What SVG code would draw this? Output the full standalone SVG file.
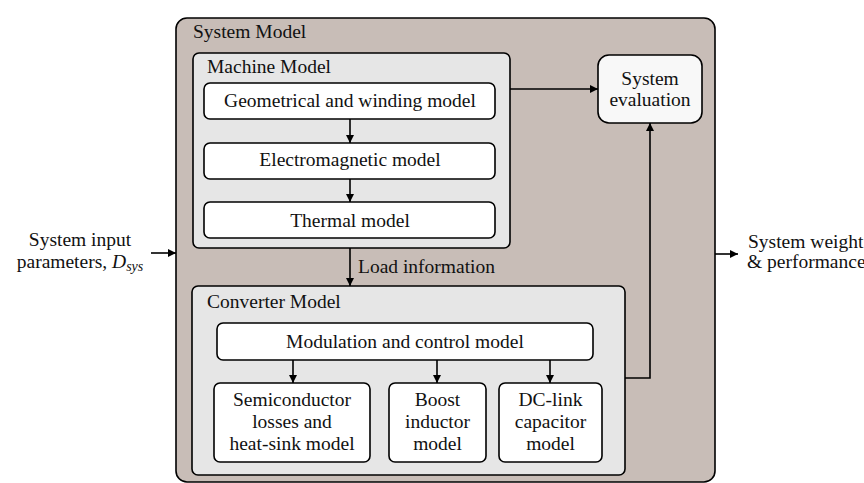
<svg xmlns="http://www.w3.org/2000/svg" width="864" height="483" viewBox="0 0 864 483">
<style>
text{font-family:"Liberation Serif","DejaVu Serif",serif;font-size:19.5px;fill:#111}
.c{text-anchor:middle}
.box{fill:#fff;stroke:#000;stroke-width:1.6}
.grp{fill:#e6e6e6;stroke:#000;stroke-width:1.6}
.line{fill:none;stroke:#000;stroke-width:1.6}
</style>
<defs>
<marker id="ah" markerWidth="10" markerHeight="10" refX="8" refY="5" orient="auto" markerUnits="userSpaceOnUse">
<path d="M0,1 L8,5 L0,9 Z" fill="#000"/>
</marker>
</defs>
<rect width="864" height="483" fill="#fff"/>
<g id="system-model">
<rect x="176" y="18" width="539" height="464" rx="11" fill="#c8bdb7" stroke="#000" stroke-width="1.6"/>
<text x="193" y="38">System Model</text>
</g>
<g id="machine-model">
<rect class="grp" x="193" y="53" width="317" height="195" rx="6"/>
<text x="207" y="73">Machine Model</text>
</g>
<g id="geometrical">
<rect class="box" x="204" y="83" width="291" height="36" rx="6"/>
<text class="c" x="350" y="107">Geometrical and winding model</text>
</g>
<g id="electromagnetic">
<rect class="box" x="204" y="143" width="291" height="36" rx="6"/>
<text class="c" x="350" y="166">Electromagnetic model</text>
</g>
<g id="thermal">
<rect class="box" x="204" y="202" width="291" height="36" rx="6"/>
<text class="c" x="350" y="227">Thermal model</text>
</g>
<g id="system-evaluation">
<rect x="598" y="55" width="104" height="68" rx="11" fill="#f8f8f8" stroke="#000" stroke-width="1.6"/>
<text class="c" x="650" y="85">System</text>
<text class="c" x="650" y="106">evaluation</text>
</g>
<g id="converter-model">
<rect class="grp" x="192" y="286" width="433" height="189" rx="6"/>
<text x="207" y="308">Converter Model</text>
</g>
<g id="modulation">
<rect class="box" x="217" y="323" width="376" height="37" rx="6"/>
<text class="c" x="405" y="348">Modulation and control model</text>
</g>
<g id="semiconductor">
<rect class="box" x="214" y="383" width="156" height="79" rx="6"/>
<text class="c" x="292" y="406">Semiconductor</text>
<text class="c" x="292" y="428">losses and</text>
<text class="c" x="292" y="450">heat-sink model</text>
</g>
<g id="boost">
<rect class="box" x="389" y="383" width="97" height="79" rx="6"/>
<text class="c" x="437.5" y="406">Boost</text>
<text class="c" x="437.5" y="428">inductor</text>
<text class="c" x="437.5" y="450">model</text>
</g>
<g id="dclink">
<rect class="box" x="499" y="383" width="103" height="79" rx="6"/>
<text class="c" x="550.5" y="406">DC-link</text>
<text class="c" x="550.5" y="428">capacitor</text>
<text class="c" x="550.5" y="450">model</text>
</g>
<g id="input-label">
<text class="c" x="80" y="246">System input</text>
<text class="c" x="80" y="268">parameters, <tspan font-style="italic">D</tspan><tspan font-style="italic" font-size="14" dy="3">sys</tspan></text>
</g>
<g id="output-label">
<text x="748" y="248">System weight</text>
<text x="747" y="268">&amp; performance</text>
</g>
<g id="connectors">
<line class="line" x1="151" y1="253" x2="176" y2="253" marker-end="url(#ah)"/>
<line class="line" x1="715" y1="254" x2="738" y2="254" marker-end="url(#ah)"/>
<line class="line" x1="350" y1="119" x2="350" y2="143" marker-end="url(#ah)"/>
<line class="line" x1="350" y1="179" x2="350" y2="202" marker-end="url(#ah)"/>
<line class="line" x1="510" y1="89" x2="598" y2="89" marker-end="url(#ah)"/>
<line class="line" x1="350" y1="248" x2="350" y2="286" marker-end="url(#ah)"/>
<text x="358" y="273">Load information</text>
<polyline class="line" points="625,378 650,378 650,123" marker-end="url(#ah)"/>
<line class="line" x1="293" y1="360" x2="293" y2="383" marker-end="url(#ah)"/>
<line class="line" x1="437" y1="360" x2="437" y2="383" marker-end="url(#ah)"/>
<line class="line" x1="550" y1="360" x2="550" y2="383" marker-end="url(#ah)"/>
</g>
</svg>
